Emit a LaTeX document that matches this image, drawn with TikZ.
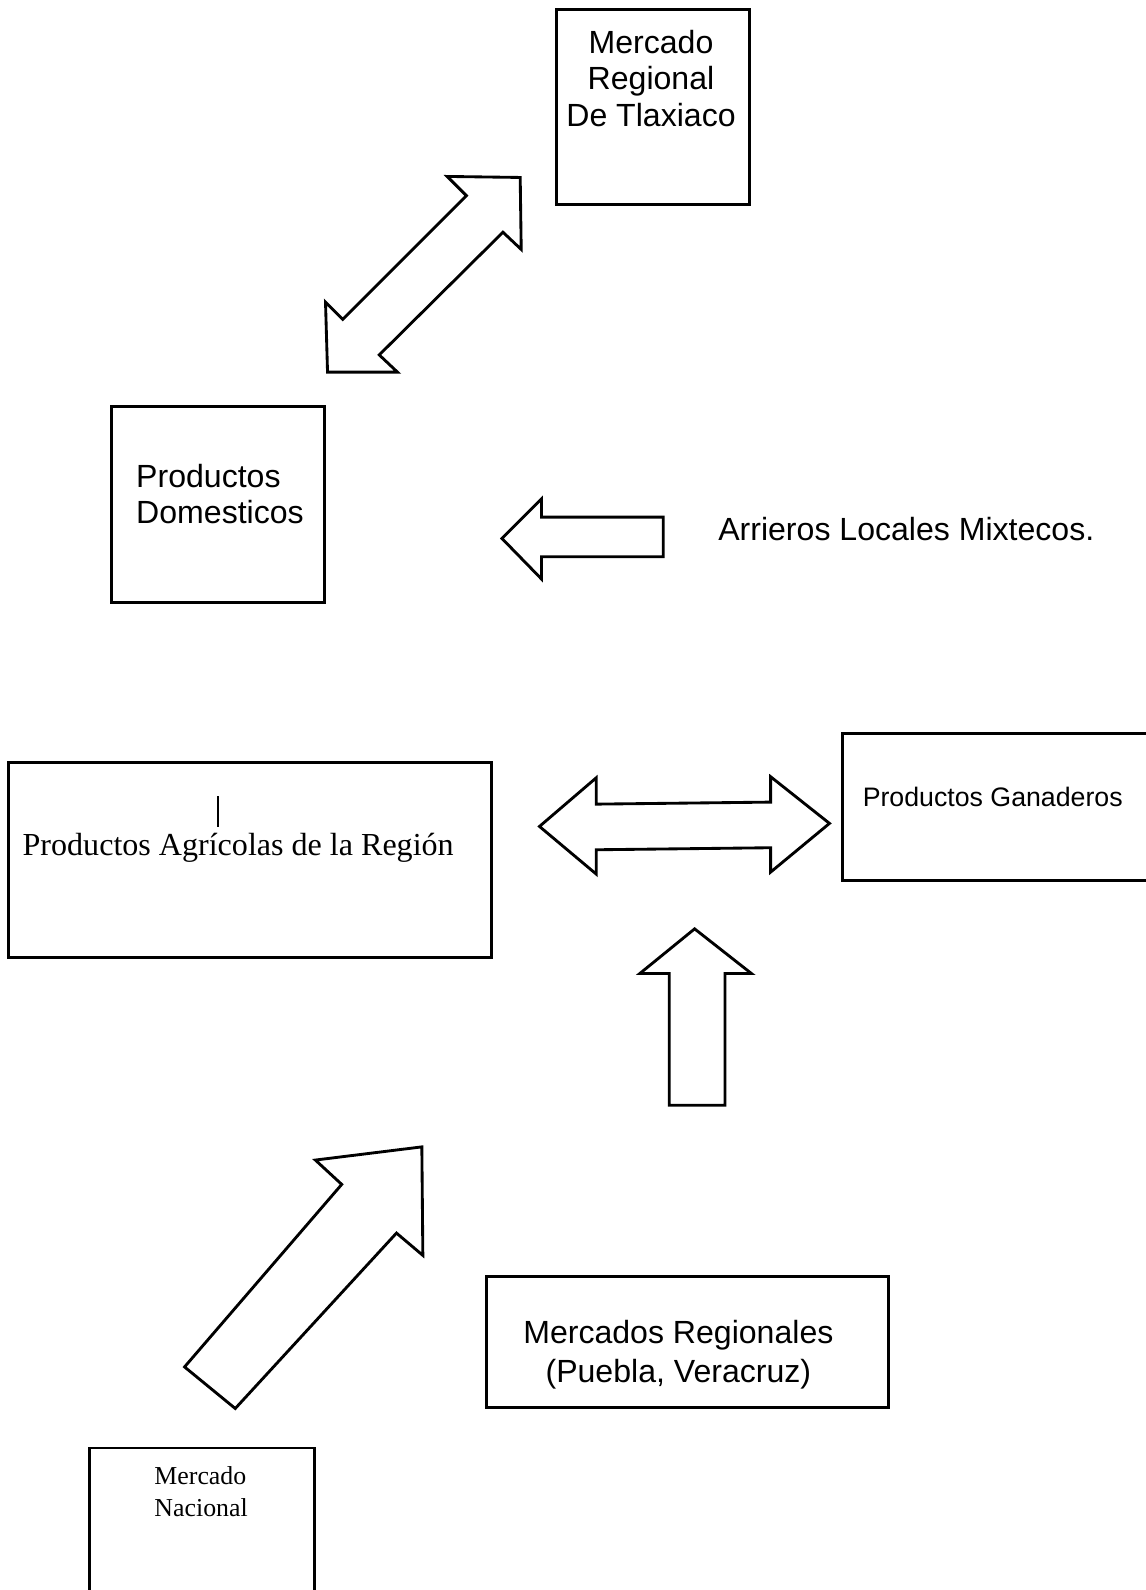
\documentclass[tikz,border=0pt]{standalone}
\usepackage{fontspec}
\setmainfont{Liberation Sans}
\newfontfamily\serifa{Liberation Serif}
\tikzset{caja/.style={ % Boxes of the diagram
      draw,
      line width=1.6pt,
      inner sep=0pt},
      flecha/.style={ % Hollow block arrows
      draw,
      line width=1.6pt,
      line join=miter,
      fill=white},
      rotulo/.style={ % Text inside and beside the boxes
      inner sep=0pt,
      align=center,
      font=\fontsize{18}{20.5}\selectfont}}

\begin{document}
\begin{tikzpicture}[x=0.02cm, y=-0.02cm] % one unit is one pixel of the scan
      \path[use as bounding box, fill=white] (0,0) rectangle (1130,1568);
      \clip (0,0) rectangle (1130,1568);
      % boxes
      \node[caja, minimum width=3.8cm, minimum height=3.86cm] (tlax) at (644,105.5) {};
      \node[caja, minimum width=4.2cm, minimum height=3.86cm] (dom) at (215,497.5) {};
      \node[caja, minimum width=9.54cm, minimum height=3.84cm] (agr) at (246.5,848) {};
      \node[caja, minimum width=6.38cm, minimum height=2.9cm] (gan) at (990.5,795.5) {};
      \node[caja, minimum width=7.92cm, minimum height=2.58cm] (merc) at (678,1323.5) {};
      \node[caja, minimum width=4.44cm, minimum height=3.44cm] (nac) at (199,1514) {};
      % texts
      \node[rotulo] (tlaxtxt) at (642,77) {Mercado\\Regional\\De Tlaxiaco};
      \node[rotulo, align=left, anchor=west] (domtxt) at (134,487) {Productos\\Domesticos};
      \node[rotulo, anchor=west] (arrtxt) at (708,522) {Arrieros Locales Mixtecos.};
      \node[rotulo, anchor=west, font=\serifa\fontsize{18}{21}\selectfont] (agrtxt) at (22,836) {Productos Agrícolas de la Región};
      \node[rotulo, font=\fontsize{15}{18}\selectfont] (gantxt) at (979,786) {Productos Ganaderos};
      \node[rotulo, font=\fontsize{18}{21.5}\selectfont] (merctxt) at (669,1336) {Mercados Regionales\\(Puebla, Veracruz)};
      \node[rotulo, align=left, anchor=west, font=\serifa\fontsize{14.5}{17.5}\selectfont] (nactxt) at (152,1471) {Mercado\\Nacional};
      \draw[line width=1.2pt] (215,785) -- (215,816);
      % block arrows
      \draw[flecha] (513,175) -- (441,174) -- (460,193) -- (338,315) -- (321,298) -- (323,367)
            -- (392,367) -- (374,350) -- (496,229) -- (514,246) -- cycle;
      \draw[flecha] (495,531) -- (534,492) -- (534,510) -- (654,510) -- (654,549) -- (534,549)
            -- (534,571) -- cycle;
      \draw[flecha] (532,815) -- (588,767) -- (588,793) -- (760,791) -- (760,766) -- (818,812)
            -- (760,860) -- (760,836) -- (588,838) -- (588,862) -- cycle;
      \draw[flecha] (685,916) -- (741,960) -- (715,960) -- (715,1090) -- (660,1090) -- (660,960)
            -- (631,960) -- cycle;
      \draw[flecha] (416,1131) -- (311,1144) -- (337,1168) -- (182,1348) -- (232,1389)
            -- (391,1216) -- (417,1238) -- cycle;
\end{tikzpicture}
\end{document}
